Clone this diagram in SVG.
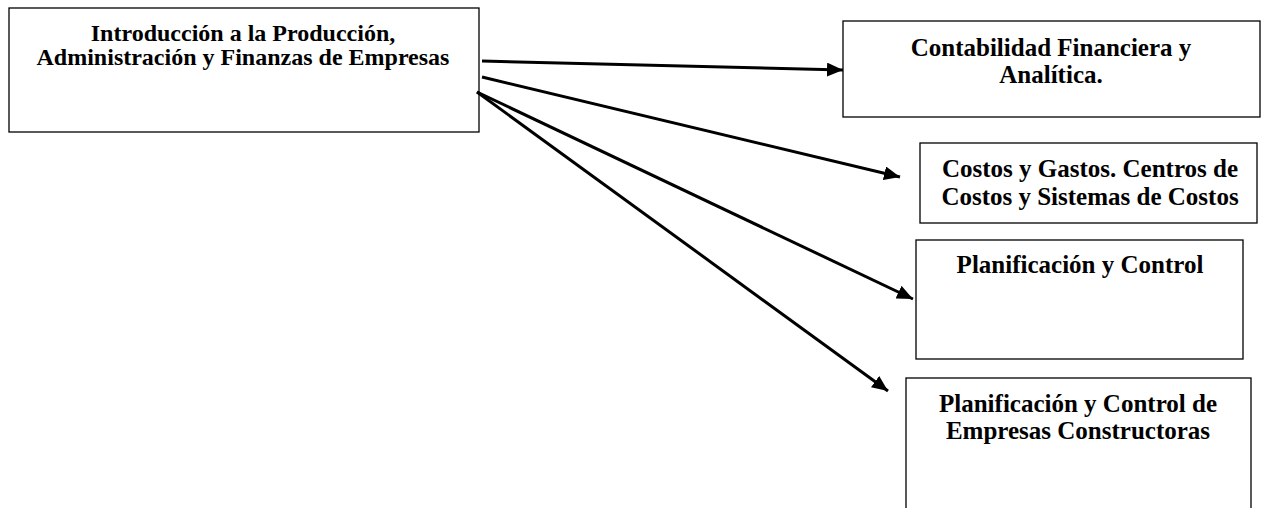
<svg xmlns="http://www.w3.org/2000/svg" width="1262" height="508" viewBox="0 0 1262 508">
<style>
.box{fill:#fff;stroke:#000;stroke-width:1.3}
.t{font-family:"Liberation Serif","Times New Roman",serif;font-weight:bold;font-size:25px;fill:#000;text-anchor:middle}
.t1{font-size:24px}
.c{stroke:#000;stroke-width:3;fill:none;marker-end:url(#ah)}
</style>
<defs>
<marker id="ah" markerUnits="userSpaceOnUse" markerWidth="18" markerHeight="14" refX="16" refY="7" orient="auto">
<path d="M0,0 L16,7 L0,14 Z" fill="#000"/>
</marker>
</defs>
<rect width="1262" height="508" fill="#fff"/>
<g id="n1">
<rect class="box" x="9" y="8" width="470" height="124"/>
<text class="t t1" x="243" y="41">Introducción a la Producción,</text>
<text class="t t1" x="243" y="65">Administración y Finanzas de Empresas</text>
</g>
<g id="n2">
<rect class="box" x="843" y="21" width="417" height="96"/>
<text class="t" x="1051" y="56">Contabilidad Financiera y</text>
<text class="t" x="1051" y="83">Analítica.</text>
</g>
<g id="n3">
<rect class="box" x="920" y="143" width="337" height="80"/>
<text class="t" x="1090" y="177">Costos y Gastos. Centros de</text>
<text class="t" x="1090" y="205">Costos y Sistemas de Costos</text>
</g>
<g id="n4">
<rect class="box" x="916" y="240" width="327" height="119"/>
<text class="t" x="1080" y="273">Planificación y Control</text>
</g>
<g id="n5">
<rect class="box" x="906" y="378" width="345" height="150"/>
<text class="t" x="1078" y="412">Planificación y Control de</text>
<text class="t" x="1078" y="439">Empresas Constructoras</text>
</g>
<g id="connectors">
<line class="c" x1="482" y1="61" x2="843" y2="70"/>
<line class="c" x1="482" y1="77" x2="900" y2="177"/>
<line class="c" x1="477" y1="92" x2="913" y2="299"/>
<line class="c" x1="477" y1="92" x2="888" y2="391"/>
</g>
</svg>
